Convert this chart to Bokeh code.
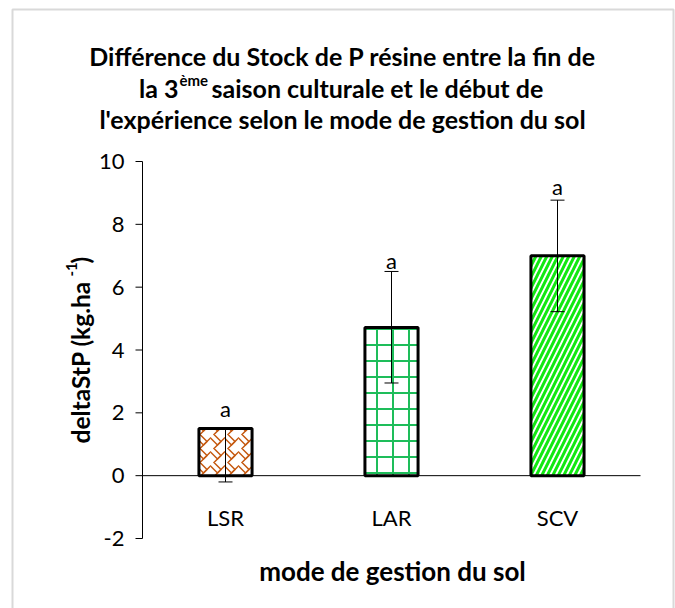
import math

from bokeh.core.properties import value
from bokeh.embed import file_html
from bokeh.models import ColumnDataSource, Range1d, TeeHead, Whisker
from bokeh.plotting import figure
from bokeh.resources import INLINE

# --- data -------------------------------------------------------------------
categories = ["LSR", "LAR", "SCV"]
delta_stock = [1.5, 4.72, 7.0]          # kg.ha-1
err_low = [-0.2, 2.95, 5.22]
err_high = [1.5, 6.5, 8.77]
letters = ["a", "a", "a"]
letter_y = [2.13, 6.85, 9.2]
y_ticks = [-2, 0, 2, 4, 6, 8, 10]

bar_hatch = ["horizontal_wave", "cross", "right_diagonal_line"]
bar_hatch_extra = ["vertical_wave", None, None]
bar_hatch_color = ["#c55a11", "#1ebd5a", "#12e812"]
bar_hatch_scale = [14, 16, 11]
bar_hatch_weight = [1.5, 2.0, 3.0]

FONT = "Lato"
W, H = 675, 608

# --- layout: the plotting frame covers the whole canvas ----------------------
AX_LEFT, AX_RIGHT = 142, 640
AX_TOP, AX_BOTTOM = 161, 538
Y_MIN, Y_MAX = y_ticks[0], y_ticks[-1]
n = len(categories)
x_scale = (AX_RIGHT - AX_LEFT) / n                  # px per category
y_scale = (AX_BOTTOM - AX_TOP) / (Y_MAX - Y_MIN)     # px per unit


def dx(px):
    """canvas x pixel -> data x"""
    return (px - AX_LEFT) / x_scale


def dy(py):
    """canvas y pixel -> data y"""
    return Y_MIN + (AX_BOTTOM - py) / y_scale


p = figure(
    width=W, height=H,
    x_range=Range1d(dx(0), dx(W)),
    y_range=Range1d(dy(H), dy(0)),
    output_backend="svg", toolbar_location=None,
    min_border=0,
)
p.axis.visible = False
p.outline_line_color = None
p.grid.visible = False
p.background_fill_color = "white"
p.border_fill_color = "white"

xc = [i + 0.5 for i in range(n)]   # category centres

src = ColumnDataSource(dict(
    x=xc, cat=categories, val=delta_stock, lo=err_low, hi=err_high,
    letter=letters, letter_y=letter_y,
))

# chart-area border
p.quad(left=[dx(12)], right=[dx(673)], top=[dy(9)], bottom=[dy(640)],
       fill_color=None, line_color="#d9d9d9", line_width=2)

# vertical value axis with outward ticks
p.segment(x0=[0], x1=[0], y0=[Y_MIN], y1=[Y_MAX], line_color="black", line_width=1)
p.segment(x0=[dx(AX_LEFT - 7)] * len(y_ticks), x1=[0] * len(y_ticks),
          y0=y_ticks, y1=y_ticks, line_color="black", line_width=1)
p.text(x=[dx(AX_LEFT - 18)] * len(y_ticks), y=y_ticks, text=[str(t) for t in y_ticks],
       text_font=value(FONT), text_font_size="22px", text_color="black",
       text_align="right", text_baseline="middle")

# horizontal category axis line at zero
p.segment(x0=[0], x1=[n], y0=[0], y1=[0], line_color="black", line_width=1)

# bars, one call per bar so each gets its own hatch
for i in range(n):
    p.vbar(x=[xc[i]], top=[delta_stock[i]], bottom=0, width=0.32,
           fill_color="white", line_color=None,
           hatch_pattern=bar_hatch[i], hatch_color=bar_hatch_color[i],
           hatch_scale=bar_hatch_scale[i], hatch_weight=bar_hatch_weight[i])
    if bar_hatch_extra[i]:
        p.vbar(x=[xc[i]], top=[delta_stock[i]], bottom=0, width=0.32,
               fill_color=None, line_color=None,
               hatch_pattern=bar_hatch_extra[i], hatch_color=bar_hatch_color[i],
               hatch_scale=bar_hatch_scale[i], hatch_weight=bar_hatch_weight[i])
    p.vbar(x=[xc[i]], top=[delta_stock[i]], bottom=0, width=0.32,
           fill_color=None, line_color="black", line_width=3)

# error bars
wh = Whisker(base="x", upper="hi", lower="lo", source=src,
             line_color="black", line_width=1,
             upper_head=TeeHead(size=14, line_color="black", line_width=1),
             lower_head=TeeHead(size=14, line_color="black", line_width=1))
wh.level = "annotation"
p.add_layout(wh)

# significance letters
p.text(x="x", y="letter_y", text="letter", source=src,
       text_font=value(FONT), text_font_size="22px", text_color="black",
       text_align="center", text_baseline="alphabetic")

# category labels
p.text(x="x", y=dy(517), text="cat", source=src,
       text_font=value(FONT), text_font_size="22px", text_color="black",
       text_align="center", text_baseline="middle")


def txt(px, py, s, size, bold=True, align="left", angle=0.0, baseline="alphabetic"):
    p.text(x=[dx(px)], y=[dy(py)], text=[s], angle=angle,
           text_font=value(FONT), text_font_size=size,
           text_font_style="bold" if bold else "normal",
           text_color="black", text_align=align, text_baseline=baseline)


# title
txt(342, 55, "Différence du Stock de P résine entre la fin de", "25px", align="center")
txt(178, 87, "la 3", "25px", align="right")
txt(179, 79, "ème", "15px", align="left")
txt(211, 87, "saison culturale et le début de", "25px", align="left")
txt(342, 118, "l'expérience selon le mode de gestion du sol", "25px", align="center")

# axis titles
txt(392, 570, "mode de gestion du sol", "26px", align="center")
txt(80, 443, "deltaStP (kg.ha", "24.5px", align="left", angle=math.pi / 2)
txt(71, 276, "-1", "15px", align="left", angle=math.pi / 2)
txt(80, 263, ")", "24.5px", align="left", angle=math.pi / 2)

open("out.html", "w").write(file_html(p, INLINE))
